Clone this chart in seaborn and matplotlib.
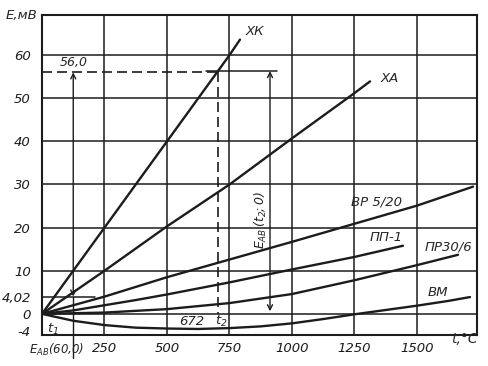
import matplotlib
matplotlib.use('Agg')
import matplotlib.pyplot as plt
import numpy as np
import pandas as pd
import seaborn as sns

# thermocouple emf E (mV) against hot junction temperature t (deg C)
t_xk = [0, 250, 500, 750, 792]
e_xk = [0, 20.0, 40.0, 60.0, 63.6]
t_xa = [0, 250, 500, 750, 1000, 1250, 1312]
e_xa = [0, 10.0, 20.3, 30.0, 40.7, 51.2, 53.9]
t_vr = [0, 250, 500, 750, 1000, 1250, 1500, 1724]
e_vr = [0, 4.0, 8.5, 12.6, 16.7, 20.9, 25.1, 29.5]
t_pp = [0, 125, 250, 375, 500, 750, 1000, 1250, 1444]
e_pp = [0, 0.8, 2.0, 3.2, 4.5, 7.3, 10.3, 13.2, 15.8]
t_pr = [0, 250, 500, 750, 1000, 1250, 1500, 1664]
e_pr = [0, 0.3, 1.1, 2.5, 4.6, 7.8, 11.3, 13.7]
t_vm = [0, 125, 250, 375, 500, 625, 750, 875, 1000, 1125, 1250, 1375, 1500, 1625, 1712]
e_vm = [0, -1.6, -2.6, -3.2, -3.4, -3.5, -3.3, -2.9, -2.2, -1.2, -0.1, 0.9, 1.9, 3.0, 3.9]

curve_names = ['ХК', 'ХА', 'ВР 5/20', 'ПП-1', 'ПР30/6', 'ВМ']

# worked example drawn on the chart
e_t1 = 4.02
e_t2 = 56.0
t1_mark = 125
t2_mark = 704
t_emf_arrow = 912

x_ticks = [250, 500, 750, 1000, 1250, 1500]
y_ticks = [-4, 0, 4.02, 10, 20, 30, 40, 50, 60]
y_tick_labels = ['-4', '0', '4,02', '10', '20', '30', '40', '50', '60']
grid_x = [250, 500, 750, 1000, 1250, 1500]
grid_y = [0, 10, 20, 30, 40, 50, 60]

ink = '#1c1c1c'


def main():
    sns.set_style('white')
    plt.rcParams['font.family'] = ['Liberation Sans Narrow', 'DejaVu Sans']
    plt.rcParams['font.style'] = 'italic'
    plt.rcParams['mathtext.fontset'] = 'dejavusans'

    fig = plt.figure(figsize=(4.89, 3.66), dpi=100)
    ax = fig.add_axes([42 / 489, 1 - 335 / 366, 435 / 489, 320 / 366])
    ax.set_xlim(0, 1740)
    ax.set_ylim(-4.9, 69.3)

    for v in grid_x:
        ax.axvline(v, color=ink, lw=1.1, zorder=1)
    for h in grid_y:
        ax.axhline(h, color=ink, lw=1.1, zorder=1)

    curves = [(t_xk, e_xk), (t_xa, e_xa), (t_vr, e_vr),
              (t_pp, e_pp), (t_pr, e_pr), (t_vm, e_vm)]
    for t, e in curves:
        sns.lineplot(x=t, y=e, color=ink, lw=1.7, ax=ax, zorder=3)

    # curve names
    fs = 9.5
    ax.text(852, 65.5, curve_names[0], ha='center', va='center', fontsize=fs)
    ax.text(1390, 54.6, curve_names[1], ha='center', va='center', fontsize=fs)
    ax.text(1340, 26.0, curve_names[2], ha='center', va='center', fontsize=fs)
    ax.text(1378, 17.6, curve_names[3], ha='center', va='center', fontsize=fs)
    ax.text(1624, 15.6, curve_names[4], ha='center', va='center', fontsize=fs)
    ax.text(1584, 5.0, curve_names[5], ha='center', va='center', fontsize=fs)

    # worked example: dashed guide to t2, arrows for the emf values
    ax.plot([0, t2_mark], [e_t2, e_t2], color=ink, lw=1.2, ls=(0, (6, 3)), zorder=2)
    ax.plot([t2_mark, t2_mark], [e_t2, 0], color=ink, lw=1.2, ls=(0, (6, 3)), zorder=2)
    ax.plot([0, 212], [e_t1, e_t1], color=ink, lw=1.1, zorder=2)
    ax.plot([656, 940], [56.3, 56.3], color=ink, lw=1.1, zorder=2)
    ax.annotate('', xy=(t1_mark, e_t2), xytext=(t1_mark, e_t1),
                arrowprops=dict(arrowstyle='<->', color=ink, lw=1.0,
                                shrinkA=0, shrinkB=0, mutation_scale=9))
    ax.plot([t1_mark, t1_mark], [e_t1, -10.2], color=ink, lw=1.0,
            clip_on=False, zorder=2)
    ax.annotate('', xy=(t_emf_arrow, 56.3), xytext=(t_emf_arrow, 0.6),
                arrowprops=dict(arrowstyle='<->', color=ink, lw=1.0,
                                shrinkA=0, shrinkB=0, mutation_scale=9))

    ax.text(128, 56.8, '56,0', ha='center', va='bottom', fontsize=9)
    ax.text(600, -1.7, '672', ha='center', va='center', fontsize=9.5)
    ax.text(718, -1.8, '$t_2$', ha='center', va='center', fontsize=9.5)
    ax.text(45, -3.7, '$t_1$', ha='center', va='center', fontsize=9.5)
    ax.text(876, 21.8, '$E_{AB}\\,(t_2;0)$', rotation=90,
            ha='center', va='center', fontsize=9)
    ax.text(60, -8.3, '$E_{AB}$(60,0)', ha='center', va='center',
            fontsize=8.5, clip_on=False)

    ax.set_xticks(x_ticks)
    ax.set_xticklabels([str(v) for v in x_ticks], fontsize=9.5)
    ax.set_yticks(y_ticks)
    ax.set_yticklabels(y_tick_labels, fontsize=9.5)
    ax.tick_params(axis='x', length=0, pad=5, colors=ink)
    ax.tick_params(axis='y', length=0, pad=8, colors=ink)
    ax.set_xlabel('')
    ax.set_ylabel('')
    for s in ax.spines.values():
        s.set_color(ink)
        s.set_linewidth(1.5)

    ax.annotate('t,°C', xy=(1690, 0), xycoords=('data', 'axes fraction'),
                xytext=(0, -3), textcoords='offset points',
                ha='center', va='center', fontsize=10)
    fig.text(22 / 489, 1 - 16 / 366, 'E,мВ', ha='center', va='center',
             fontsize=9.5)

    fig.savefig('out.png', dpi=100, facecolor='white')


if __name__ == '__main__':
    main()
